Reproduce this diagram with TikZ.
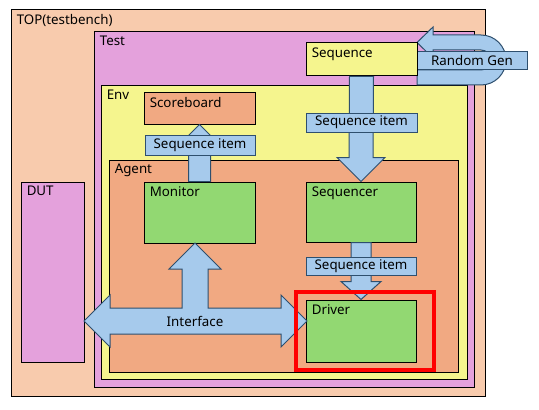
\documentclass[tikz,border=0pt]{standalone}
\usepackage{fontspec}
\setmainfont{Noto Sans}
\usetikzlibrary{positioning,fit,calc}
\definecolor{topfill}{HTML}{F8CBAD}
\definecolor{testfill}{HTML}{E4A1DC}
\definecolor{envfill}{HTML}{F5F58E}
\definecolor{agentfill}{HTML}{F1A982}
\definecolor{compfill}{HTML}{92D872}
\definecolor{arrfill}{HTML}{A6CAEC}
\definecolor{arrline}{HTML}{2E4F6E}

\begin{document}
\begin{tikzpicture}[x=0.75pt, y=-0.75pt,
  box/.style={draw=black, line width=0.75pt, fill=#1, inner sep=0pt},
  corner/.style={anchor=north west, inner xsep=4.5pt, inner ysep=3.5pt, font=\fontsize{10pt}{12pt}\selectfont},
  mid/.style={anchor=center, inner sep=0pt, font=\fontsize{10pt}{12pt}\selectfont},
  tag/.style={draw=arrline, line width=0.75pt, fill=arrfill, inner sep=0pt},
  barrow/.style={draw=arrline, line width=0.75pt, fill=arrfill, line join=miter}
]
  \useasboundingbox (0,0) rectangle (539,410);

  % Containers
  \node[box=topfill, fit={(11,10) (485,396)}, label={[corner]north west:TOP(testbench)}] (top) {};
  \node[box=testfill, fit={(94,32) (474,387)}, label={[corner]north west:Test}] (test) {};
  \node[box=envfill, fit={(101,86) (467,379)}, label={[corner]north west:Env}] (env) {};
  \node[box=agentfill, fit={(109,160) (458,372)}, label={[corner]north west:Agent}] (agent) {};
  \node[box=testfill, fit={(21,182) (84,362)}, label={[corner]north west:DUT}] (dut) {};

  % Block arrows
  \draw[barrow] (417,42.5) -- (433,27) -- (433,35) -- (481,35) arc(-90:90:25) -- (417,85) -- (417,70)
    -- (481,70) arc(90:-90:10) -- (433,50) -- (433,58) -- cycle;
  \node[tag, fit={(417,52) (527,70)}, label={[mid]center:Random Gen}] (rgen) {};

  % Components
  \node[box=envfill, fit={(306,43) (417,76)}, label={[corner]north west:Sequence}] (seq) {};
  \node[box=agentfill, fit={(144,93) (255,124)}, label={[corner]north west:Scoreboard}] (sb) {};
  \node[box=compfill, fit={(144,182) (255,243)}, label={[corner]north west:Monitor}] (mon) {};
  \node[box=compfill, fit={(306,182) (416,242)}, label={[corner]north west:Sequencer}] (seqr) {};
  \node[box=compfill, fit={(306,300) (416,362)}, label={[corner]north west:Driver}] (drv) {};

  \draw[barrow] ($(seq.south)+(-12,0)$) -- ($(seqr.north)+(-12,-24)$) -- ($(seqr.north)+(-24,-24)$) -- (seqr.north)
    -- ($(seqr.north)+(24,-24)$) -- ($(seqr.north)+(12,-24)$) -- ($(seq.south)+(12,0)$) -- cycle;
  \draw[barrow] ($(mon.north)+(-11,0)$) -- ($(sb.south)+(-11,22)$) -- ($(sb.south)+(-22,22)$) -- (sb.south)
    -- ($(sb.south)+(22,22)$) -- ($(sb.south)+(11,22)$) -- ($(mon.north)+(11,0)$) -- cycle;
  \draw[barrow] ($(seqr.south)+(-10,0)$) -- ($(drv.north)+(-10,-18)$) -- ($(drv.north)+(-20,-18)$) -- (drv.north)
    -- ($(drv.north)+(20,-18)$) -- ($(drv.north)+(10,-18)$) -- ($(seqr.south)+(10,0)$) -- cycle;
  % Interface
  \draw[barrow] (84,321) -- (110,295) -- (110,308) -- (182,308) -- (182,269) -- (169,269) -- (195,243)
    -- (221,269) -- (208,269) -- (208,308) -- (281,308) -- (281,295) -- (307,321) -- (281,347)
    -- (281,334) -- (110,334) -- (110,347) -- cycle;
  \node[mid] (iface) at (195,321) {Interface};

  % Labels
  \node[tag, fit={(306,113) (417,132)}, label={[mid]center:Sequence item}] (si1) {};
  \node[tag, fit={(145,135) (255,155)}, label={[mid]center:Sequence item}] (si2) {};
  \node[tag, fit={(306,257) (416,275)}, label={[mid]center:Sequence item}] (si3) {};

  \node[draw=red, line width=3pt, inner sep=0pt, fit={(296,292) (434,370)}] (focus) {};
\end{tikzpicture}
\end{document}
